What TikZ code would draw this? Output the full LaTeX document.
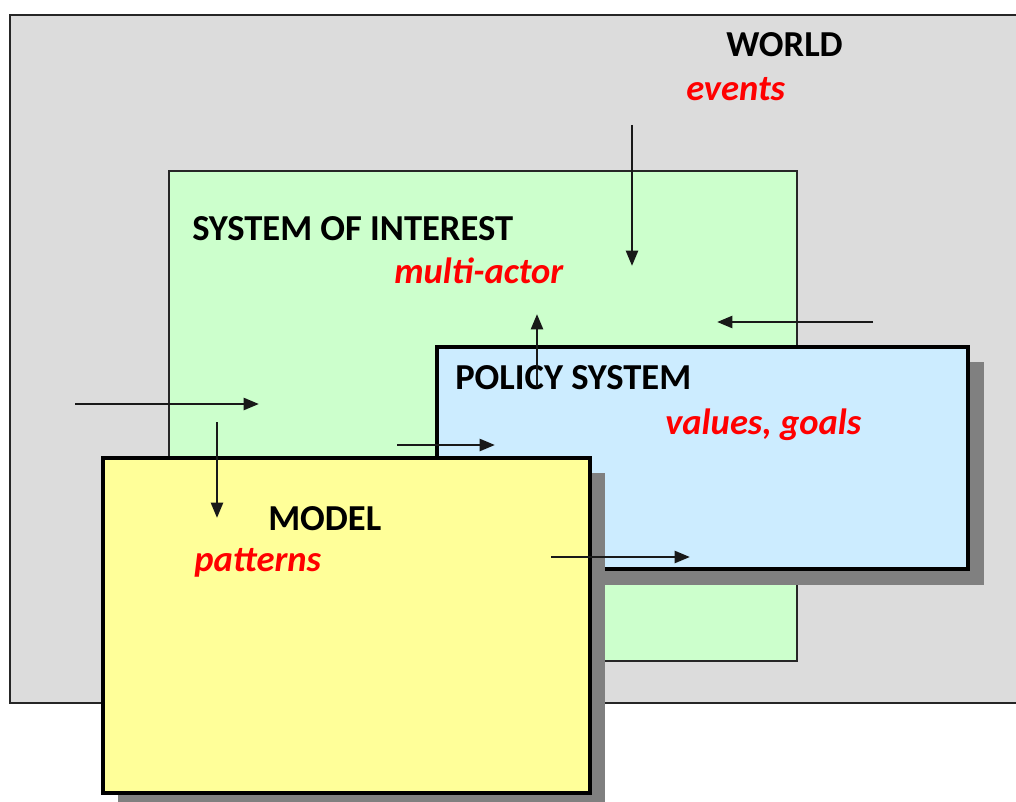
\documentclass[tikz,border=0pt]{standalone}
\usepackage{fontspec}
\setmainfont{Carlito}
\usetikzlibrary{arrows.meta}
\definecolor{worldgray}{HTML}{DCDCDC}
\definecolor{soigreen}{HTML}{CCFFCC}
\definecolor{policyblue}{HTML}{CCECFF}
\definecolor{modelyellow}{HTML}{FFFF99}
\definecolor{shadowgray}{HTML}{808080}

\begin{document}
\begin{tikzpicture}[x=0.025cm,y=-0.025cm]
	\tikzstyle{every node}+=[inner sep=0pt, anchor=base west]
	\tikzstyle{title}=[font=\fontsize{26}{30}\selectfont\bfseries]
	\tikzstyle{keyword}=[font=\fontsize{26}{30}\selectfont\bfseries\itshape, text=red]
	\tikzstyle{flow}=[black!90, line width=2pt, -{Triangle[length=11pt,width=8.5pt]}]
	\useasboundingbox (0,0) rectangle (1016,801);
	\clip (0,0) rectangle (1016,801);
	% world
	\filldraw [fill=worldgray, draw=black!85, line width=1.9pt] (10,15) rectangle (1040,703);
	\node [title] (world) at (726,57) {WORLD};
	\node [keyword] (events) at (686,101) {events};
	% system of interest
	\filldraw [fill=soigreen, draw=black!85, line width=1.5pt] (169,171) rectangle (797,661);
	\node [title] (soi) at (192,240) {SYSTEM OF INTEREST};
	\node [keyword] (actor) at (394,283) {multi-actor};
	% policy system
	\fill [shadowgray] (452,362) rectangle (984,585);
	\filldraw [fill=policyblue, draw=black, line width=2.9pt] (437,347) rectangle (968,569);
	\node [title] (policy) at (455,389) {POLICY SYSTEM};
	\node [keyword] (values) at (665,434) {values, goals};
	% model
	\fill [shadowgray] (118,473) rectangle (605,810);
	\filldraw [fill=modelyellow, draw=black, line width=2.9pt] (103,458) rectangle (590,793);
	\node [title] (model) at (268,530) {MODEL};
	\node [keyword] (patterns) at (194,571) {patterns};
	% flows
	\coordinate (a1) at (632,125); \coordinate (b1) at (632,266);
	\coordinate (a2) at (873,322); \coordinate (b2) at (717,322);
	\coordinate (a3) at (537,387); \coordinate (b3) at (537,314);
	\coordinate (a4) at (75,404);  \coordinate (b4) at (259,404);
	\coordinate (a5) at (217,422); \coordinate (b5) at (217,518);
	\coordinate (a6) at (397,445); \coordinate (b6) at (495,445);
	\coordinate (a7) at (551,557); \coordinate (b7) at (690,557);
	\draw [flow] (a1) -- (b1);
	\draw [flow] (a2) -- (b2);
	\draw [flow] (a3) -- (b3);
	\draw [flow] (a4) -- (b4);
	\draw [flow] (a5) -- (b5);
	\draw [flow] (a6) -- (b6);
	\draw [flow] (a7) -- (b7);
\end{tikzpicture}
\end{document}
